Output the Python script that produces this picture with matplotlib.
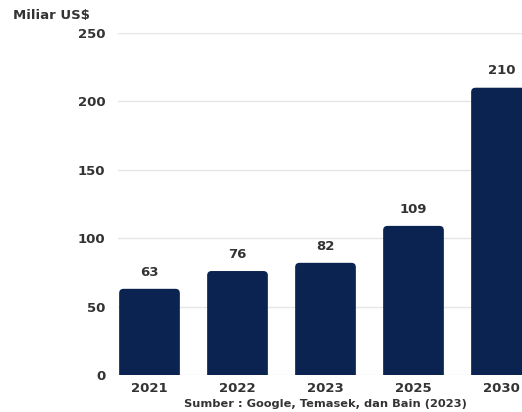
import matplotlib.pyplot as plt
from matplotlib.patches import FancyBboxPatch

# data
years = ['2021', '2022', '2023', '2025', '2030']
values = [63, 76, 82, 109, 210]
y_ticks = [0, 50, 100, 150, 200, 250]

navy = '#0b2351'
txt = '#333333'

plt.rcParams['font.family'] = ['DejaVu Sans']

fig = plt.figure(figsize=(5.22, 4.12), dpi=100)
ax = fig.add_axes([118/522, 1-375/412, 1-118/522, (375-33)/412])

x = list(range(len(years)))
w = 0.69
bars = ax.bar(x, values, width=w, color='none', edgecolor='none', zorder=3)

# rounded tops; the box starts below 0 so the bottom corners are clipped off
asp = (250/342) / (1/88.0)
for b in bars:
    bx, bw, bh = b.get_x(), b.get_width(), b.get_height()
    ax.add_patch(FancyBboxPatch((bx, -10), bw, bh + 10,
                                boxstyle='round,pad=0,rounding_size=0.05',
                                mutation_aspect=asp, fc=navy, ec='none',
                                zorder=3))

for xi, v in zip(x, values):
    ax.text(xi, v + 7.5, str(v), ha='center', va='bottom', fontsize=9.5,
            fontweight='bold', color=txt)

ax.set_xlim(-0.358, 4.233)
ax.set_ylim(0, 250)
ax.set_yticks(y_ticks)
ax.set_xticks(x)
ax.set_xticklabels(years)
ax.grid(axis='y', color='#e6e6e6', linewidth=1, zorder=0)
for s in ax.spines.values():
    s.set_visible(False)
ax.tick_params(length=0, labelsize=9.5, labelcolor=txt)
ax.tick_params(axis='y', pad=9)
ax.tick_params(axis='x', pad=5)
for lab in ax.get_xticklabels() + ax.get_yticklabels():
    lab.set_fontweight('bold')

fig.text(13/522, 1-16/412, 'Miliar US$', ha='left', va='center',
         fontsize=9.5, fontweight='bold', color=txt)
fig.text(325/522, 1-404/412, 'Sumber : Google, Temasek, dan Bain (2023)',
         ha='center', va='center', fontsize=8.2, fontweight='bold', color=txt)

fig.savefig('out.png', dpi=100)
